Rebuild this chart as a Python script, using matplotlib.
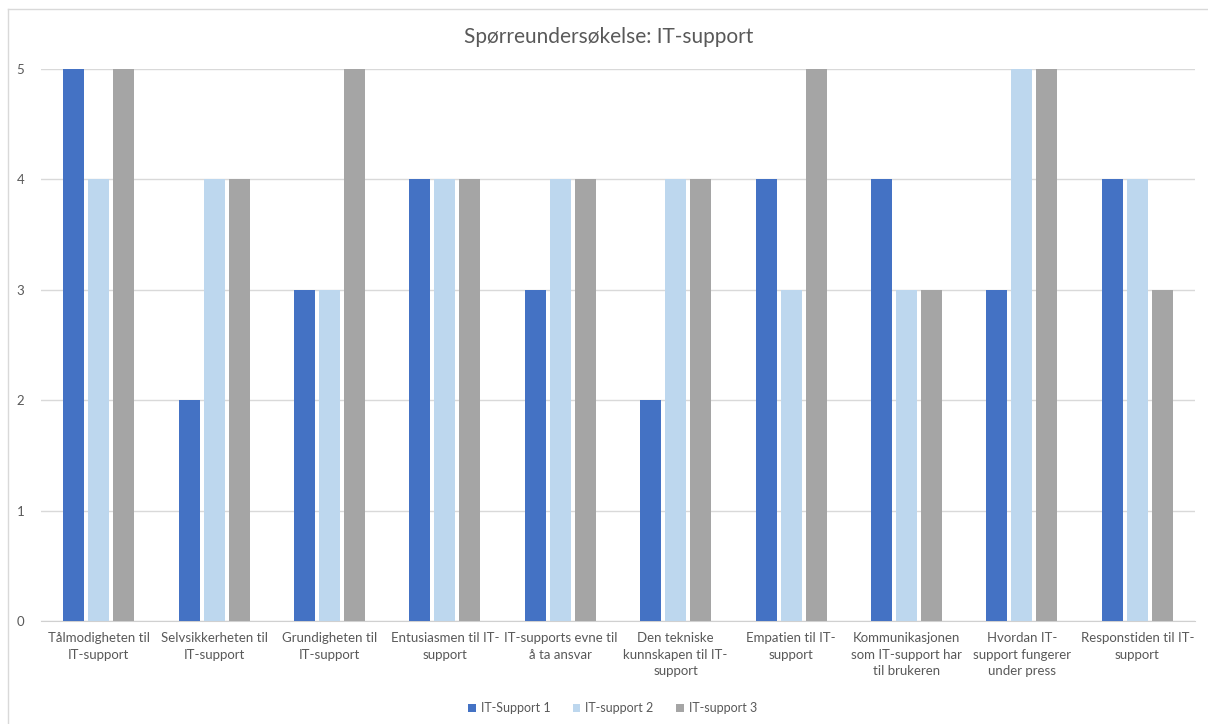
import numpy as np
import matplotlib.pyplot as plt

plt.rcParams['font.family'] = ['Lato', 'DejaVu Sans']

# Data
categories = [
    "Tålmodigheten til\nIT-support",
    "Selvsikkerheten til\nIT-support",
    "Grundigheten til\nIT-support",
    "Entusiasmen til IT-\nsupport",
    "IT-supports evne til\nå ta ansvar",
    "Den tekniske\nkunnskapen til IT-\nsupport",
    "Empatien til IT-\nsupport",
    "Kommunikasjonen\nsom IT-support har\ntil brukeren",
    "Hvordan IT-\nsupport fungerer\nunder press",
    "Responstiden til IT-\nsupport",
]
support1 = [5, 2, 3, 4, 3, 2, 4, 4, 3, 4]
support2 = [4, 4, 3, 4, 4, 4, 3, 3, 5, 4]
support3 = [5, 4, 5, 4, 4, 4, 5, 3, 5, 3]
series_names = ["IT-Support 1", "IT-support 2", "IT-support 3"]
colors = ["#4472C4", "#BDD7EE", "#A5A5A5"]


def main():
    fig = plt.figure(figsize=(12.08, 7.24), dpi=100)
    ax = fig.add_axes([0.0339, 0.1423, 0.9553, 0.7624])

    x = np.arange(len(categories))
    width = 0.182
    step = 0.217
    for i, (vals, name, col) in enumerate(zip([support1, support2, support3], series_names, colors)):
        ax.bar(x + (i - 1) * step, vals, width, color=col, label=name, zorder=3)

    ax.set_xlim(-0.5, len(categories) - 0.5)
    ax.set_ylim(0, 5)
    ax.set_yticks(range(6))
    ax.yaxis.grid(True, color="#D9D9D9", linewidth=1, zorder=0)
    for s in ["top", "right", "left"]:
        ax.spines[s].set_visible(False)
    ax.spines["bottom"].set_color("#D0D0D0")
    ax.tick_params(axis="both", length=0, colors="#595959", labelsize=9.5)
    ax.tick_params(axis="y", pad=12)
    ax.tick_params(axis="x", pad=8)
    ax.set_xticks(x)
    ax.set_xticklabels(categories, linespacing=1.45)

    fig.suptitle("Spørreundersøkelse: IT-support", x=0.504, y=0.963, fontsize=15, color="#595959")

    ax.legend(loc="center", bbox_to_anchor=(0.507, 0.022), bbox_transform=fig.transFigure,
              ncol=3, frameon=False, fontsize=9, labelcolor="#595959",
              handlelength=0.6, handleheight=0.6, handletextpad=0.4, columnspacing=1.8)

    # Chart border
    fig.add_artist(plt.Line2D([0.0066, 1.0], [0.9876, 0.9876], color="#D9D9D9", linewidth=1))
    fig.add_artist(plt.Line2D([0.0066, 0.0066], [0.0, 0.9876], color="#D9D9D9", linewidth=1))

    fig.savefig("out.png", dpi=100)


if __name__ == "__main__":
    main()
